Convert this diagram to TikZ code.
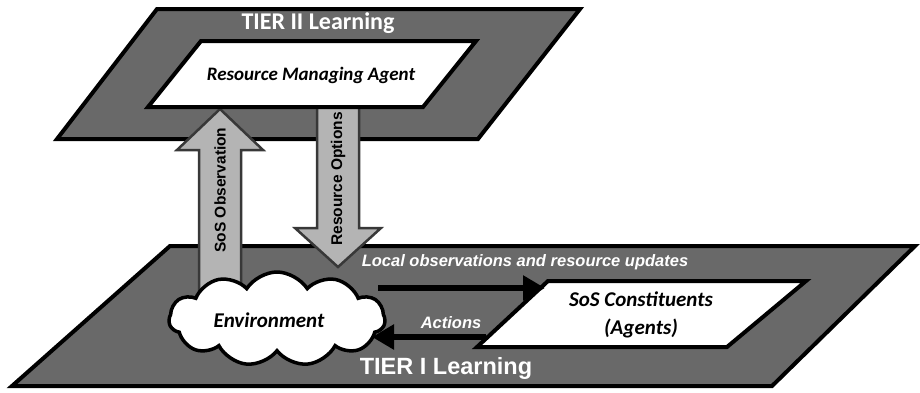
\documentclass[tikz,border=0pt]{standalone}
\usepackage{fontspec}
\usetikzlibrary{shapes.symbols,arrows.meta}
\newfontfamily\calfont{Carlito}
\newfontfamily\arifont{Liberation Sans}
\definecolor{tierfill}{HTML}{696969}
\definecolor{blockfill}{HTML}{B4B4B4}
\definecolor{blockedge}{HTML}{383838}
\tikzset{
  tierplane/.style={fill=tierfill, draw=black, line width=4pt, line join=miter},
  agentplane/.style={fill=white, draw=black, line width=4pt, line join=miter},
  blockarrow/.style={fill=blockfill, draw=blockedge, line width=2.5pt, line join=miter},
  flow/.style={draw=black, line width=6pt, -{Triangle[length=22pt,width=24pt]}},
  tiertitle/.style={text=white, inner sep=0pt},
  flowlabel/.style={text=white, inner sep=0pt, font=\arifont\bfseries\itshape\fontsize{16.5}{19}\selectfont},
  agenttext/.style={text=black, inner sep=0pt, align=center, font=\calfont\bfseries\itshape\fontsize{21}{28}\selectfont},
  blocklabel/.style={text=black, inner sep=0pt, rotate=90, font=\arifont\bfseries\fontsize{15.5}{18}\selectfont},
}
\begin{document}
\begin{tikzpicture}[x=1pt,y=-1pt]
\useasboundingbox (0,0) rectangle (920,392);

% lower plane: TIER I
\draw[tierplane] (170,246) coordinate (t1a) -- (915,246) coordinate (t1b)
  -- (772,386) coordinate (t1c) -- (12,386) coordinate (t1d) -- cycle;

% upper plane: TIER II
\draw[tierplane] (157,9) coordinate (t2a) -- (580,9) coordinate (t2b)
  -- (478,139) coordinate (t2c) -- (57,139) coordinate (t2d) -- cycle;

% block arrow going up
\draw[blockarrow] (199,300) -- (199,150) -- (177,150) -- (220,109)
  -- (263,150) -- (241,150) -- (241,300) -- cycle;
% block arrow going down
\draw[blockarrow] (317,100) -- (317,228) -- (295,228) -- (338,267)
  -- (381,228) -- (359,228) -- (359,100) -- cycle;

% resource managing agent plane
\draw[agentplane] (201,41) coordinate (raa) -- (476,41) coordinate (rab)
  -- (423,107) coordinate (rac) -- (148,107) coordinate (rad) -- cycle;
\node[agenttext, font=\calfont\bfseries\itshape\fontsize{19}{23}\selectfont] (rma) at (311,75) {Resource Managing Agent};

\node[tiertitle, font=\calfont\bfseries\fontsize{24}{28}\selectfont] (tier2) at (318,23) {TIER II Learning};

\node[blocklabel] (obs) at (220,190) {SoS Observation};
\node[blocklabel] (opt) at (338,179) {Resource Options};

% constituents plane
\draw[agentplane] (548,281) coordinate (sa) -- (806,281) coordinate (sb)
  -- (727,347) coordinate (sc) -- (477,347) coordinate (sd) -- cycle;
\node[agenttext] (sos) at (641,315) {SoS Constituents\\(Agents)};

% environment
\node[cloud, cloud puffs=11, cloud puff arc=115, aspect=2.3,
      minimum width=216pt, minimum height=94pt, fill=white, draw=black,
      line width=3.5pt, inner sep=0pt] (env) at (277,319) {};
\node[agenttext] (envtext) at (269,320) {Environment};

% flows between environment and constituents
\coordinate (upA) at (378,288);
\coordinate (upB) at (545,288);
\coordinate (dnA) at (486,337);
\coordinate (dnB) at (372,337);
\draw[flow] (upA) -- (upB);
\draw[flow] (dnA) -- (dnB);

\node[flowlabel] (loc) at (525,262) {Local observations and resource updates};
\node[flowlabel] (act) at (451,323) {Actions};

\node[tiertitle, font=\arifont\bfseries\fontsize{23.5}{27}\selectfont] (tier1) at (446,368) {TIER I Learning};
\end{tikzpicture}
\end{document}
